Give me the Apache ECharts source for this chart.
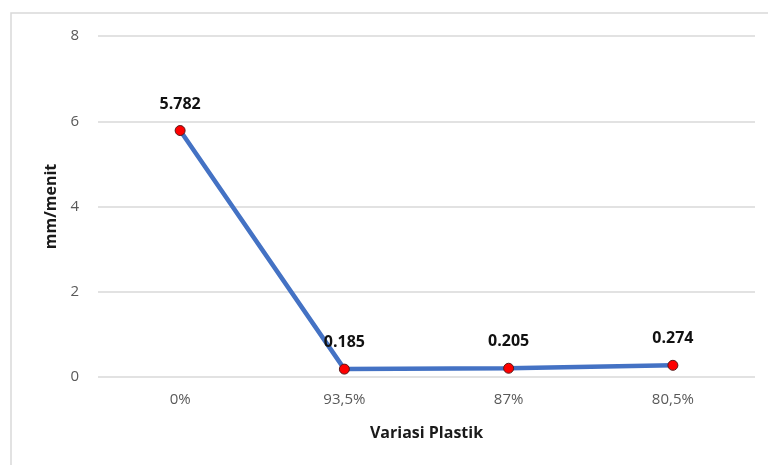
<!DOCTYPE html>
<html>
<head>
<meta charset="utf-8">
<script src="https://cdn.jsdelivr.net/npm/echarts@6/dist/echarts.min.js"></script>
<style>
  html, body { margin: 0; padding: 0; background: #ffffff; }
  #chart { width: 768px; height: 465px; }
</style>
</head>
<body>
<div id="chart"></div>
<script>
// Erosion rate per plastic variation
const categories = ['0%', '93,5%', '87%', '80,5%'];
const rateValues = [5.782, 0.185, 0.205, 0.274];
const yTicks = [0, 2, 4, 6, 8];

const FONT = '"Open Sans", "Noto Sans", sans-serif';

const chart = echarts.init(document.getElementById('chart'), null, { renderer: 'canvas' });

chart.setOption({
  backgroundColor: '#ffffff',
  animation: false,
  graphic: [{
    type: 'rect',
    shape: { x: 11, y: 13, width: 800, height: 500 },
    style: { fill: 'none', stroke: '#d9d9d9', lineWidth: 1.5 },
    silent: true
  }],
  grid: { left: 98, right: 13, top: 36, bottom: 88 },
  xAxis: {
    type: 'category',
    data: categories,
    boundaryGap: true,
    axisLine: { show: false },
    axisTick: { show: false },
    axisLabel: { color: '#595959', fontFamily: FONT, fontSize: 15, margin: 15 },
    name: 'Variasi Plastik',
    nameLocation: 'middle',
    nameGap: 48,
    nameTextStyle: { color: '#1a1a1a', fontFamily: FONT, fontSize: 16, fontWeight: 'bold' }
  },
  yAxis: {
    type: 'value',
    min: yTicks[0],
    max: yTicks[yTicks.length - 1],
    interval: 2,
    axisLine: { show: false },
    axisTick: { show: false },
    axisLabel: { color: '#595959', fontFamily: FONT, fontSize: 15, margin: 19 },
    splitLine: { lineStyle: { color: '#d9d9d9', width: 1.5 } },
    name: 'mm/menit',
    nameLocation: 'middle',
    nameGap: 36,
    nameTextStyle: { color: '#1a1a1a', fontFamily: FONT, fontSize: 16, fontWeight: 'bold' }
  },
  series: [{
    type: 'line',
    data: rateValues,
    symbol: 'circle',
    symbolSize: 10,
    lineStyle: { color: '#4472c4', width: 4.5 },
    itemStyle: { color: '#ff0000', borderColor: '#5a1a1a', borderWidth: 1 },
    label: {
      show: true,
      position: 'top',
      distance: 13,
      color: '#111111',
      fontFamily: FONT,
      fontSize: 16,
      fontWeight: 'bold',
      formatter: p => p.value.toFixed(3)
    },
    z: 3
  }]
});
</script>
</body>
</html>
